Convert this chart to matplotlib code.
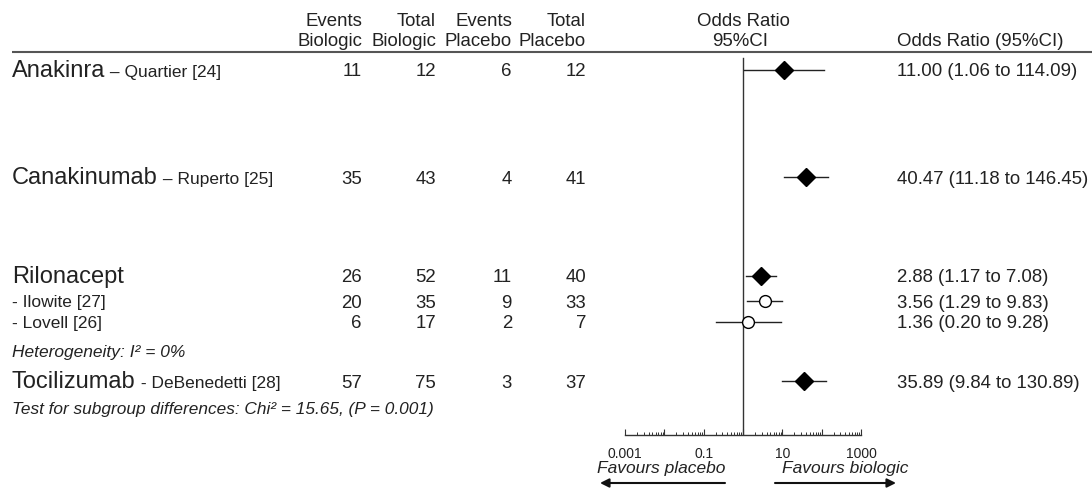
import numpy as np
import matplotlib.pyplot as plt
from matplotlib.ticker import FixedLocator, LogLocator, FuncFormatter, NullFormatter

plt.rcParams['font.family'] = ['Liberation Sans', 'DejaVu Sans']

# data
names = ['Anakinra', 'Canakinumab', 'Rilonacept', '', '', 'Tocilizumab']
studies = [' – Quartier [24]', ' – Ruperto [25]', '', '- Ilowite [27]', '- Lovell [26]', ' - DeBenedetti [28]']
events_bio = [11, 35, 26, 20, 6, 57]
total_bio = [12, 43, 52, 35, 17, 75]
events_pla = [6, 4, 11, 9, 2, 3]
total_pla = [12, 41, 40, 33, 7, 37]
odds = [11.00, 40.47, 2.88, 3.56, 1.36, 35.89]
ci_lo = [1.06, 11.18, 1.17, 1.29, 0.20, 9.84]
ci_hi = [114.09, 146.45, 7.08, 9.83, 9.28, 130.89]
pooled = [True, True, True, False, False, True]
tick_labels = {0.001: '0.001', 0.1: '0.1', 10: '10', 1000: '1000'}

# layout (pixels, top-down)
W, H = 1092, 488
row_y = [70, 177, 276, 301, 322, 381]
col_x = [362, 436, 512, 586]
axis_y = 435
ax_left, ax_right = 625, 861
txt = '#222222'
fs = 13.4

fig = plt.figure(figsize=(W / 100, H / 100), dpi=100)
ax = fig.add_axes([0, 0, 1, 1])
ax.set_xlim(0, W)
ax.set_ylim(H, 0)
ax.axis('off')

# header
heads = [('Events', 'Biologic'), ('Total', 'Biologic'), ('Events', 'Placebo'), ('Total', 'Placebo')]
for x, (a, b) in zip(col_x, heads):
    ax.text(x, 20, a, ha='right', va='center_baseline', fontsize=fs, color=txt)
    ax.text(x, 39.5, b, ha='right', va='center_baseline', fontsize=fs, color=txt)
ax.text(743, 20, 'Odds Ratio', ha='center', va='center_baseline', fontsize=fs, color=txt)
ax.text(740, 39.5, '95%CI', ha='center', va='center_baseline', fontsize=fs, color=txt)
ax.text(897, 39.5, 'Odds Ratio (95%CI)', ha='left', va='center_baseline', fontsize=fs, color=txt)
ax.plot([12, W], [51.5, 51.5], color='#555555', lw=1.5, solid_capstyle='butt')

# rows
fig.canvas.draw()
inv = ax.transData.inverted()
for i, y in enumerate(row_y):
    if names[i]:
        t = ax.text(12, y + 7, names[i], ha='left', va='baseline', fontsize=17, color=txt)
        bb = t.get_window_extent(renderer=fig.canvas.get_renderer())
        x1 = inv.transform((bb.x1, 0))[0]
        ax.text(x1, y + 7, studies[i], ha='left', va='baseline', fontsize=12.5, color=txt)
    else:
        ax.text(12, y, studies[i], ha='left', va='center_baseline', fontsize=12.5, color=txt)
    for x, v in zip(col_x, [events_bio[i], total_bio[i], events_pla[i], total_pla[i]]):
        ax.text(x, y, str(v), ha='right', va='center_baseline', fontsize=fs, color=txt)
    ax.text(897, y, f'{odds[i]:.2f} ({ci_lo[i]:.2f} to {ci_hi[i]:.2f})',
            ha='left', va='center_baseline', fontsize=fs, color=txt)

ax.text(12, 351, 'Heterogeneity: I² = 0%', ha='left', va='center_baseline',
        fontsize=12.5, style='italic', color=txt)
ax.text(12, 408, 'Test for subgroup differences: Chi² = 15.65, (P = 0.001)', ha='left',
        va='center_baseline', fontsize=12.4, style='italic', color=txt)

# favours labels + arrows
ax.text(725, 467, 'Favours placebo', ha='right', va='center_baseline', fontsize=12.5,
        style='italic', color=txt)
ax.text(782, 467, 'Favours biologic', ha='left', va='center_baseline', fontsize=12.5,
        style='italic', color=txt)
ax.annotate('', xy=(600, 483), xytext=(725, 483),
            arrowprops=dict(arrowstyle='-|>', color='#111111', lw=1.5, mutation_scale=13,
                            shrinkA=0, shrinkB=0))
ax.annotate('', xy=(896, 483), xytext=(775, 483),
            arrowprops=dict(arrowstyle='-|>', color='#111111', lw=1.5, mutation_scale=13,
                            shrinkA=0, shrinkB=0))

# forest axes
fa = fig.add_axes([ax_left / W, (H - axis_y) / H, (ax_right - ax_left) / W, axis_y / H])
fa.patch.set_alpha(0)
fa.set_xscale('log')
fa.set_xlim(0.001, 1000)
fa.set_ylim(axis_y, 0)
for s in ['top', 'left', 'right']:
    fa.spines[s].set_visible(False)
fa.spines['bottom'].set_color('#333333')
fa.spines['bottom'].set_linewidth(1)
fa.yaxis.set_visible(False)
fa.xaxis.set_major_locator(FixedLocator(10.0 ** np.arange(-3, 4)))
fa.xaxis.set_major_formatter(FuncFormatter(lambda v, p: tick_labels.get(round(v, 3) if v < 1 else round(v), '')))
fa.xaxis.set_minor_locator(LogLocator(base=10, subs=np.arange(2, 10)))
fa.xaxis.set_minor_formatter(NullFormatter())
fa.tick_params(axis='x', which='major', direction='in', length=4, width=0.8, color='#333333',
               labelsize=10, labelcolor=txt, pad=8.5)
fa.tick_params(axis='x', which='minor', direction='in', length=2.5, width=0.7, color='#333333')

fa.axvline(1, ymin=0, ymax=(axis_y - 58) / axis_y, color='#333333', lw=1)

for i, y in enumerate(row_y):
    fa.plot([ci_lo[i], ci_hi[i]], [y, y], color='#222222', lw=1)
    if pooled[i]:
        fa.plot(odds[i], y, marker='D', ms=9.5, color='black', mec='black')
    else:
        fa.plot(odds[i], y, marker='o', ms=8.5, mfc='white', mec='black', mew=1)

fig.savefig('out.png', dpi=100)
